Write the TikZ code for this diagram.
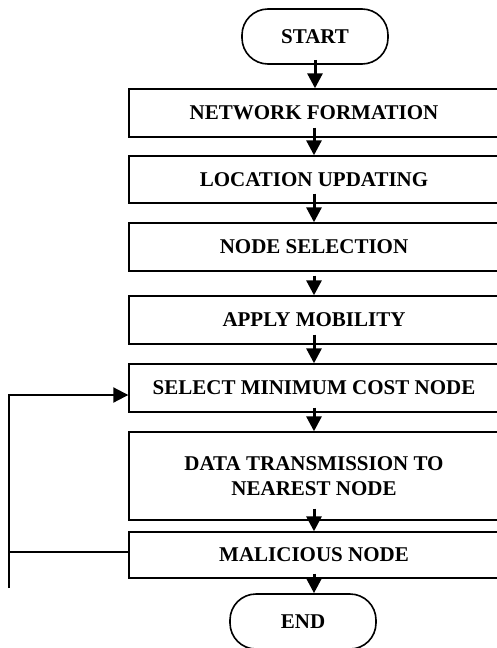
\documentclass[tikz,border=0pt]{standalone}
\usepackage{fontspec}
\setmainfont{Liberation Serif}
\usepackage{tikz}
\usetikzlibrary{arrows.meta,
positioning
}
\tikzset{>={Triangle[length=15pt, width=15pt]}}
\tikzset{
  stepbox/.style = {draw, line width=1.4pt, minimum width=370pt, inner sep=0pt,
    align=center, font=\bfseries\fontsize{21}{25}\selectfont},
  termbox/.style = {draw, line width=1.6pt, rounded corners=26pt, minimum width=146pt,
    minimum height=55pt, font=\bfseries\fontsize{21}{25}\selectfont},
  flow/.style = {->, line width=3pt}
}

\begin{document}
\begin{tikzpicture}[x=1pt, y=-1pt]
    \useasboundingbox (0,0) rectangle (496,648);

    \node[termbox] (start) at (315,36.5) {START};
    \node[stepbox, minimum height=48pt] (net) at (314,113) {NETWORK FORMATION};
    \node[stepbox, minimum height=47pt] (loc) at (314,179.5) {LOCATION UPDATING};
    \node[stepbox, minimum height=48pt] (sel) at (314,247) {NODE SELECTION};
    \node[stepbox, minimum height=48pt] (mob) at (314,320) {APPLY MOBILITY};
    \node[stepbox, minimum height=48pt] (cost) at (314,388) {SELECT MINIMUM COST NODE};
    \node[stepbox, minimum height=88pt] (data) at (314,476) {DATA TRANSMISSION TO\\NEAREST NODE};
    \node[stepbox, minimum height=46pt] (mal) at (314,555) {MALICIOUS NODE};
    \node[termbox] (end) at (303,621.5) {END};

    % main flow
    \draw[flow] ([yshift=5pt]start.south) -- (start.south |- net.north);
    \draw[flow] ([yshift=10pt]net.south) -- (loc.north);
    \draw[flow] ([yshift=10pt]loc.south) -- (sel.north);
    \draw[flow] ([yshift=-4pt]sel.south) -- (mob.north);
    \draw[flow] ([yshift=10pt]mob.south) -- (cost.north);
    \draw[flow] ([yshift=5pt]cost.south) -- (data.north);
    \draw[flow] ([yshift=12pt]data.south) -- (mal.north);
    \draw[flow] ([yshift=5pt]mal.south) -- (mal.south |- end.north);

    % loop back
    \coordinate (loopbot) at (9,588);
    \draw[line width=1.6pt] ([yshift=3pt]mal.west) -- ([yshift=3pt]mal.west -| loopbot);
    \draw[flow, line width=2pt] (loopbot) |- ([yshift=-7pt]cost.west);
\end{tikzpicture}
\end{document}
